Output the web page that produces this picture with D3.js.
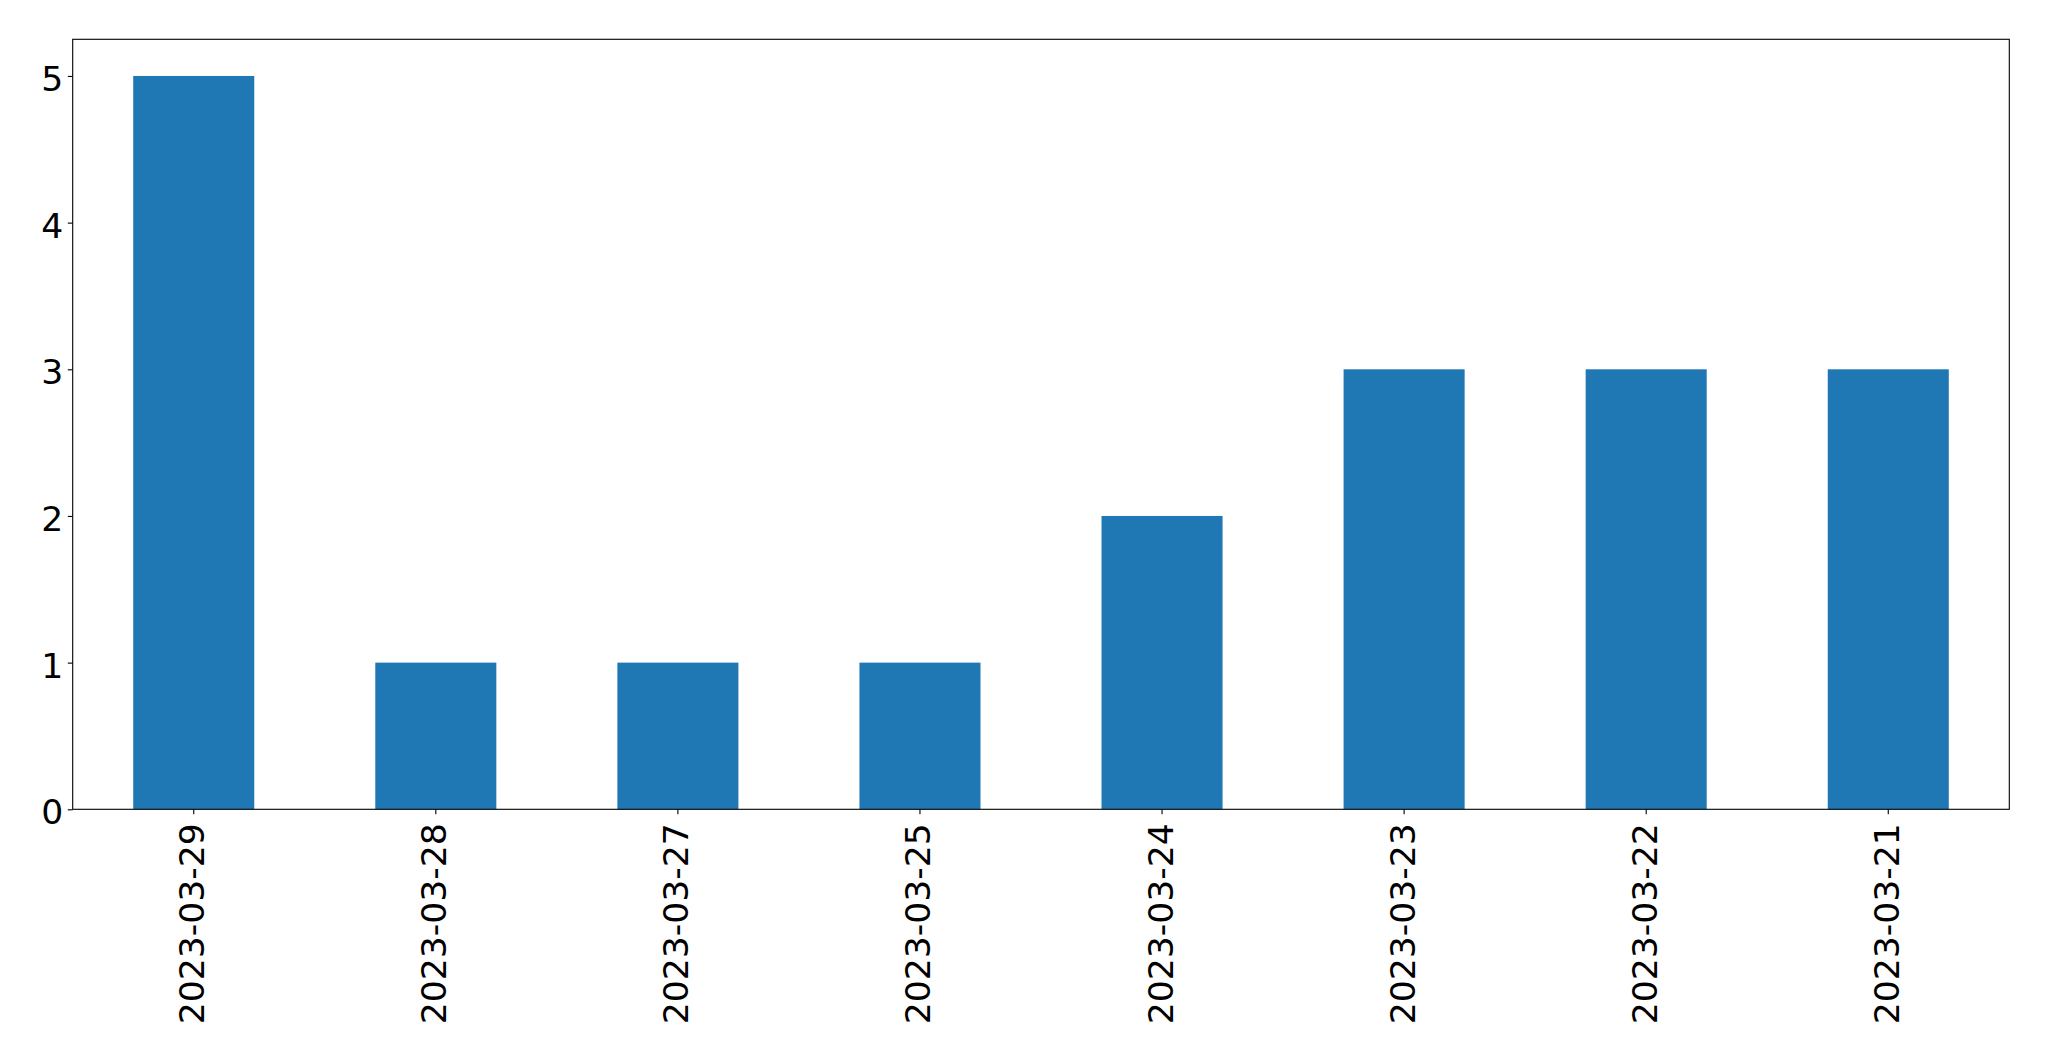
<!DOCTYPE html>
<html>
<head>
<meta charset="utf-8">
<script src="https://cdn.jsdelivr.net/npm/d3@7"></script>
<style>
  html, body { margin: 0; padding: 0; background: #fff; }
  svg { display: block; }
</style>
</head>
<body>
<script>
const categories = ["2023-03-29","2023-03-28","2023-03-27","2023-03-25","2023-03-24","2023-03-23","2023-03-22","2023-03-21"];
const values = [5, 1, 1, 1, 2, 3, 3, 3];
const yTicks = [0, 1, 2, 3, 4, 5];

(function () {
const W = 2049, H = 1061;
const mLeft = 72.7, mRight = 2009.3, mTop = 39.3, mBottom = 809.3;
const fontSize = 34.6;

const svg = d3.select("body").append("svg").attr("width", W).attr("height", H);

const x = d3.scaleBand().domain(categories).range([mLeft, mRight]).paddingInner(0.5).paddingOuter(0.25);
const y = d3.scaleLinear().domain([0, 5.25]).range([mBottom, mTop]);

svg.append("g").selectAll("rect").data(categories).join("rect")
  .attr("x", d => x(d))
  .attr("width", x.bandwidth())
  .attr("y", (d, i) => y(values[i]))
  .attr("height", (d, i) => y(0) - y(values[i]))
  .attr("fill", "#1f77b4");

const yAxis = svg.append("g").attr("transform", `translate(${mLeft},0)`)
  .call(d3.axisLeft(y).tickValues(yTicks).tickFormat(d3.format("d")).tickSize(4.9).tickPadding(4.5));
yAxis.select(".domain").remove();
yAxis.selectAll("line").attr("stroke", "#000").attr("stroke-width", 1.1);
yAxis.selectAll("text").attr("font-family", "DejaVu Sans").attr("font-size", fontSize).attr("fill", "#000").attr("dy", "0.42em");

const xAxis = svg.append("g").attr("transform", `translate(0,${mBottom})`)
  .call(d3.axisBottom(x).tickSize(4.9).tickPadding(7));
xAxis.select(".domain").remove();
xAxis.selectAll("line").attr("stroke", "#000").attr("stroke-width", 1.1);
xAxis.selectAll("text")
  .attr("font-family", "DejaVu Sans").attr("font-size", fontSize).attr("fill", "#000")
  .attr("text-anchor", "end")
  .attr("dy", null)
  .attr("y", 0)
  .attr("dominant-baseline", "central")
  .attr("transform", "translate(-1.5,14) rotate(-90)");

svg.append("rect")
  .attr("x", mLeft).attr("y", mTop)
  .attr("width", mRight - mLeft).attr("height", mBottom - mTop)
  .attr("fill", "none").attr("stroke", "#000").attr("stroke-width", 1.1);
})();
</script>
</body>
</html>
